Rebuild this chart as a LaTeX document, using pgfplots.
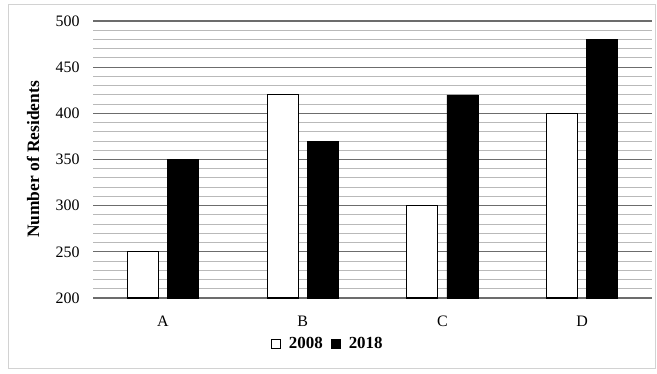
\documentclass[border=0pt]{standalone}
\usepackage{pgfplots}
\pgfplotsset{compat=1.18}
\usepackage{fontspec}
\setmainfont{Liberation Serif}
\begin{document}
\begin{tikzpicture}[x=1bp,y=1bp]
\path[use as bounding box] (0,0) rectangle (657,373);
\draw[gray!35, line width=1bp] (8,5) rectangle (655,368);
\begin{axis}[
  at={(93bp,75bp)}, anchor=south west,
  scale only axis, width=559bp, height=277bp,
  xmin=-0.5, xmax=3.5, ymin=200, ymax=500,
  xtick={0,1,2,3}, xticklabels={A,B,C,D},
  ytick={200,250,...,500},
  minor ytick={210,220,...,490},
  ymajorgrids, yminorgrids,
  major grid style={draw=gray!85!black, line width=1.2bp},
  minor grid style={draw=gray!55, line width=1bp},
  axis line style={draw=none},
  tick style={draw=none},
  tick label style={font=\fontsize{16}{18}\selectfont},
  xticklabel style={yshift=-10bp},
  yticklabel style={xshift=-10bp},
  /pgf/number format/assume math mode=true,
  ylabel={Number of Residents},
  every axis y label/.style={at={(axis description cs:-0.107,0.5)}, rotate=90, anchor=center,
     font=\fontsize{17.5}{20}\selectfont\bfseries},
  ybar, bar width=31bp,
  legend style={at={(0.42,-0.135)}, anchor=north, draw=none, legend columns=2,
    font=\fontsize{17}{20}\selectfont\bfseries, column sep=6bp, inner sep=0pt},
  legend image code/.code={\draw[#1, line width=1bp] (0bp,-4.5bp) rectangle (9bp,4.5bp);},
]
\addplot[draw=black, fill=white, line width=1.2bp, bar shift=-20bp] coordinates {(0,250) (1,420) (2,300) (3,400)};
\addplot[draw=black, fill=black, bar shift=20bp] coordinates {(0,350) (1,370) (2,420) (3,480)};
\legend{2008,2018}
\end{axis}
\end{tikzpicture}
\end{document}
